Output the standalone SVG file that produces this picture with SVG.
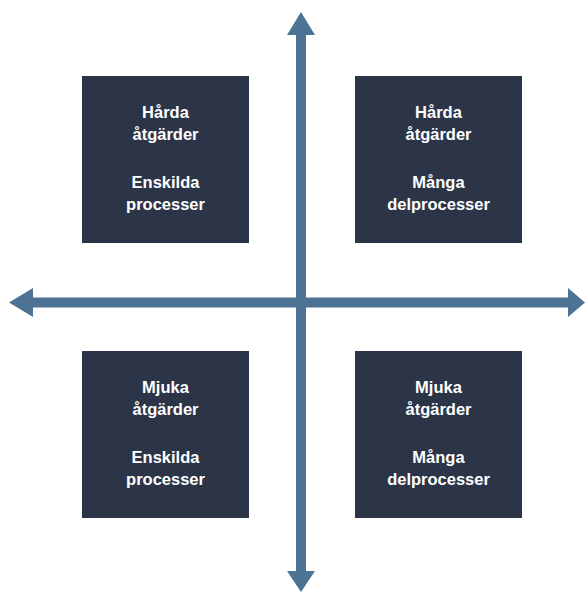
<svg xmlns="http://www.w3.org/2000/svg" width="585" height="592" viewBox="0 0 585 592">
<style>
.box{fill:#2b3547;}
.t{fill:#ffffff;font-family:"Liberation Sans",Arial,sans-serif;font-weight:bold;font-size:16.5px;text-anchor:middle;}
.ax{stroke:#4d7394;stroke-width:10;fill:none;}
.hd{fill:#4d7394;}
</style>
<rect width="585" height="592" fill="#ffffff"/>
<g id="connectors">
<line class="ax" x1="301" y1="30" x2="301" y2="575"/>
<line class="ax" x1="30" y1="302.5" x2="570" y2="302.5"/>
<polygon class="hd" points="301,12 315,35 287,35"/>
<polygon class="hd" points="301,592 315,571 287,571"/>
<polygon class="hd" points="9,302.5 33,288 33,317"/>
<polygon class="hd" points="585,302.5 568,288 568,317"/>
</g>
<g id="node-hard-single">
<rect class="box" x="82" y="76" width="167" height="167"/>
<text class="t" x="165.5" y="118">Hårda</text>
<text class="t" x="165.5" y="140">åtgärder</text>
<text class="t" x="165.5" y="188">Enskilda</text>
<text class="t" x="165.5" y="210">processer</text>
</g>
<g id="node-hard-many">
<rect class="box" x="355" y="76" width="167" height="167"/>
<text class="t" x="438.5" y="118">Hårda</text>
<text class="t" x="438.5" y="140">åtgärder</text>
<text class="t" x="438.5" y="188">Många</text>
<text class="t" x="438.5" y="210">delprocesser</text>
</g>
<g id="node-soft-single">
<rect class="box" x="82" y="351" width="167" height="167"/>
<text class="t" x="165.5" y="393">Mjuka</text>
<text class="t" x="165.5" y="415">åtgärder</text>
<text class="t" x="165.5" y="463">Enskilda</text>
<text class="t" x="165.5" y="485">processer</text>
</g>
<g id="node-soft-many">
<rect class="box" x="355" y="351" width="167" height="167"/>
<text class="t" x="438.5" y="393">Mjuka</text>
<text class="t" x="438.5" y="415">åtgärder</text>
<text class="t" x="438.5" y="463">Många</text>
<text class="t" x="438.5" y="485">delprocesser</text>
</g>
</svg>
